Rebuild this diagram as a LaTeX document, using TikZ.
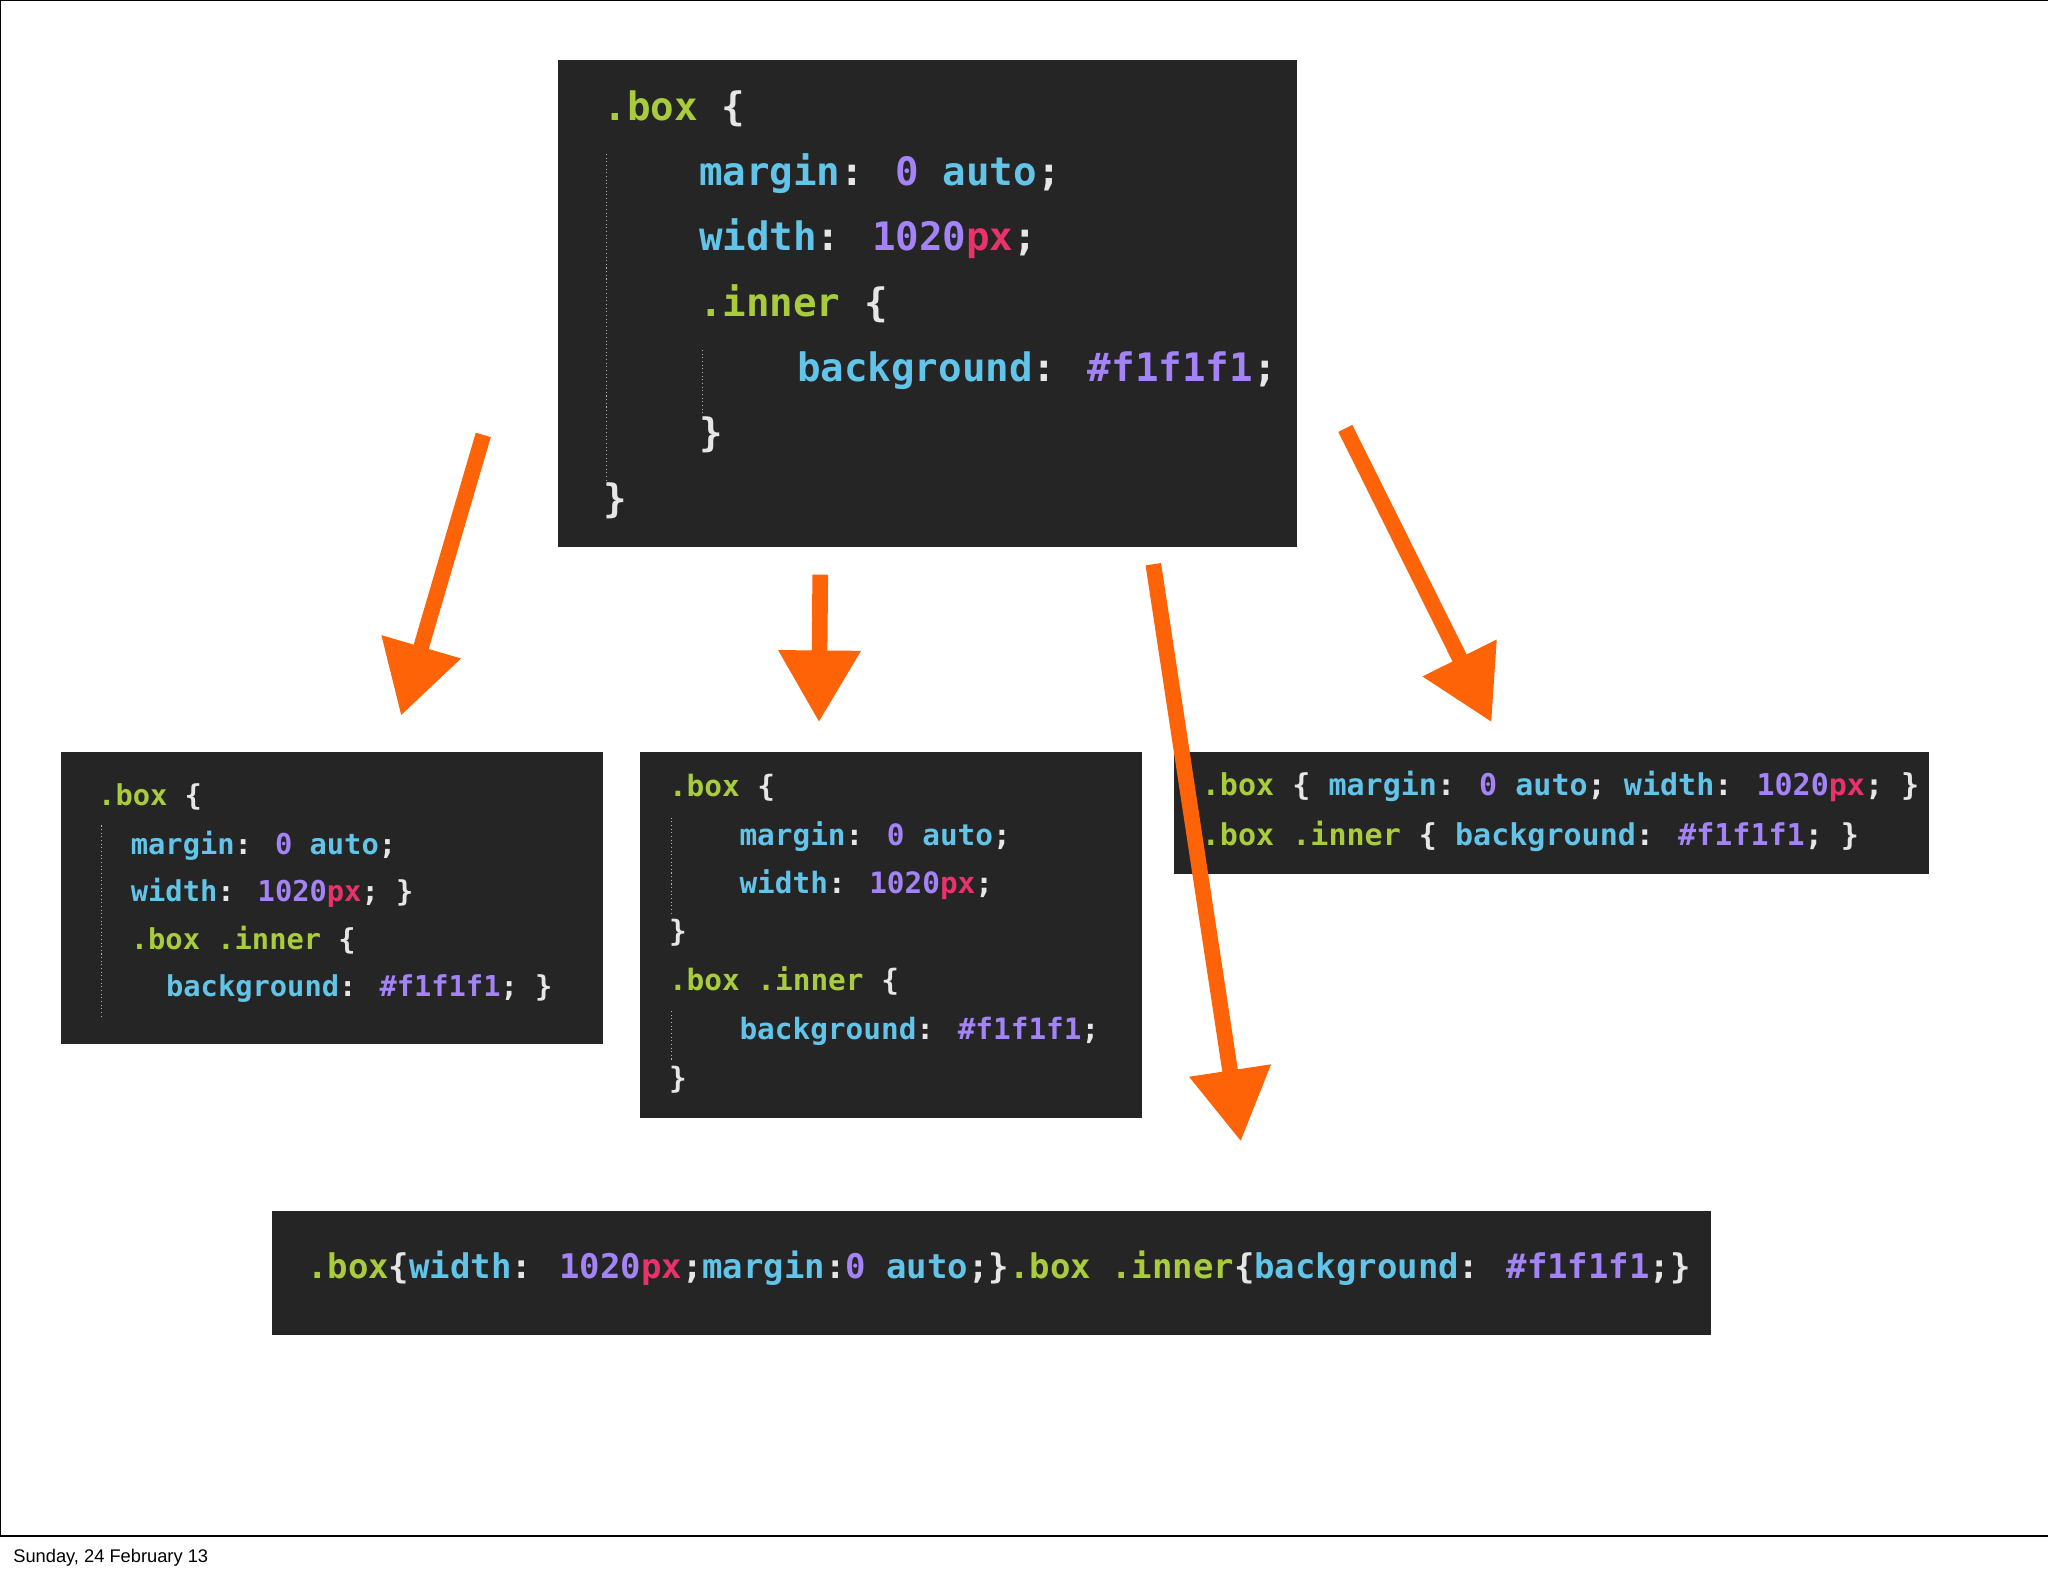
\documentclass[tikz,border=0pt]{standalone}
\usepackage{fontspec}
\setmainfont{Liberation Sans}
\newfontfamily\codefont{DejaVu Sans Mono}
\usetikzlibrary{arrows.meta}
\definecolor{boxbg}{HTML}{252525}
\definecolor{csel}{HTML}{A8CC3C}
\definecolor{cprp}{HTML}{62C4E8}
\definecolor{cnum}{HTML}{A383F5}
\definecolor{cpx}{HTML}{E8336A}
\definecolor{cpun}{HTML}{E6E6E6}
\definecolor{arr}{HTML}{FF6308}
\newcommand\tSel[1]{\textcolor{csel}{#1}}
\newcommand\tPrp[1]{\textcolor{cprp}{#1}}
\newcommand\tNum[1]{\textcolor{cnum}{#1}}
\newcommand\tPx[1]{\textcolor{cpx}{#1}}
\newcommand\tPun[1]{\textcolor{cpun}{#1}}
\begin{document}
\begin{tikzpicture}[x=1pt,y=-1pt,
  codebox/.style={fill=boxbg,draw=none},
  ln/.style={anchor=base west,inner sep=0,text=cpun,font=\codefont\bfseries\fontsize{#1}{#1}\selectfont},
  guide/.style={draw=gray!60,dotted,line width=0.8pt},
  arrow/.style={draw=arr,line width=12pt,-{Triangle[length=55pt,width=60pt]}}]
\useasboundingbox (0,0) rectangle (1568,1206);
\draw[line width=0.8pt] (0,0) rectangle (1568,1176);
\node[anchor=base west,inner sep=0,font=\fontsize{14}{14}\selectfont] (foot) at (10,1196) {Sunday, 24 February 13};
% boxes
\path[codebox] (427,46) rectangle (993,419);
\path[codebox] (47,576) rectangle (462,799);
\path[codebox] (490,576) rectangle (874,856);
\path[codebox] (899,576) rectangle (1477,669);
\path[codebox] (208,927) rectangle (1310,1022);
% top
\draw[guide] (464,118) -- (464,370);
\draw[guide] (538,268) -- (538,318);
\node[ln=30] (t1) at (462,92) {\tSel{.box} \{};
\node[ln=30] (t2) at (535,142) {\tPrp{margin}: \tNum{0} \tPrp{auto};};
\node[ln=30] (t3) at (535,192) {\tPrp{width}: \tNum{1020}\tPx{px};};
\node[ln=30] (t4) at (535,242) {\tSel{.inner} \{};
\node[ln=30] (t5) at (610,292) {\tPrp{background}: \tNum{\#f1f1f1};};
\node[ln=30] (t6) at (535,342) {\}};
\node[ln=30] (t7) at (462,392) {\}};
% left
\draw[guide] (78,632) -- (78,778);
\node[ln=22] (l1) at (75,617) {\tSel{.box} \{};
\node[ln=22] (l2) at (100,654) {\tPrp{margin}: \tNum{0} \tPrp{auto};};
\node[ln=22] (l3) at (100,690) {\tPrp{width}: \tNum{1020}\tPx{px}; \}};
\node[ln=22] (l4) at (100,727) {\tSel{.box .inner} \{};
\node[ln=22] (l5) at (127,763) {\tPrp{background}: \tNum{\#f1f1f1}; \}};
% middle
\draw[guide] (514,626) -- (514,700);
\draw[guide] (514,774) -- (514,812);
\node[ln=22.5] (m1) at (512,610) {\tSel{.box} \{};
\node[ln=22.5] (m2) at (566,647) {\tPrp{margin}: \tNum{0} \tPrp{auto};};
\node[ln=22.5] (m3) at (566,684) {\tPrp{width}: \tNum{1020}\tPx{px};};
\node[ln=22.5] (m4) at (512,721) {\}};
\node[ln=22.5] (m5) at (512,758) {\tSel{.box .inner} \{};
\node[ln=22.5] (m6) at (566,796) {\tPrp{background}: \tNum{\#f1f1f1};};
\node[ln=22.5] (m7) at (512,833) {\}};
% right
\node[ln=23] (r1) at (920,609) {\tSel{.box} \{ \tPrp{margin}: \tNum{0} \tPrp{auto}; \tPrp{width}: \tNum{1020}\tPx{px}; \}};
\node[ln=23] (r2) at (920,647) {\tSel{.box .inner} \{ \tPrp{background}: \tNum{\#f1f1f1}; \}};
% bottom
\node[ln=26] (b1) at (235,979) {\tSel{.box}\{\tPrp{width}: \tNum{1020}\tPx{px};\tPrp{margin}:\tNum{0} \tPrp{auto};\}\tSel{.box .inner}\{\tPrp{background}: \tNum{\#f1f1f1};\}};
% arrows
\coordinate (a1s) at (370,333); \coordinate (a1e) at (307,548);
\coordinate (a2s) at (628,440); \coordinate (a2e) at (627,553);
\coordinate (a3s) at (883,432); \coordinate (a3e) at (950,874);
\coordinate (a4s) at (1030,328); \coordinate (a4e) at (1142,553);
\draw[arrow] (a1s) -- (a1e);
\draw[arrow] (a2s) -- (a2e);
\draw[arrow] (a3s) -- (a3e);
\draw[arrow] (a4s) -- (a4e);
\end{tikzpicture}
\end{document}
